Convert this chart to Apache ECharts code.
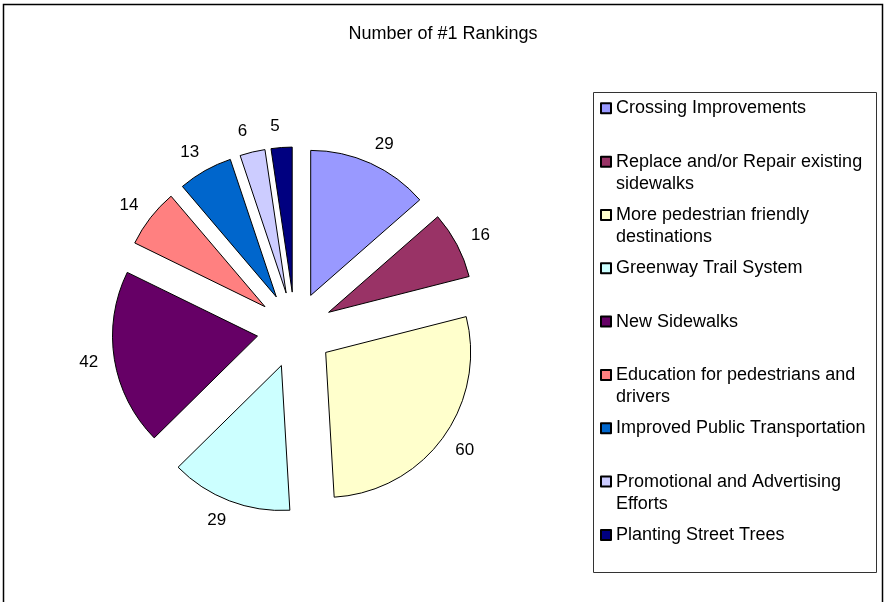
<!DOCTYPE html>
<html>
<head>
<meta charset="UTF-8">
<title>Number of #1 Rankings</title>
<style>
html, body { margin: 0; padding: 0; background: #fff; }
#chart { width: 886px; height: 602px; }
</style>
</head>
<body>
<div id="chart"></div>
<script src="https://cdn.jsdelivr.net/npm/echarts@6/dist/echarts.min.js"></script>
<script type="text/javascript">
// data
var categories = [
  'Crossing Improvements',
  'Replace and/or Repair existing sidewalks',
  'More pedestrian friendly destinations',
  'Greenway Trail System',
  'New Sidewalks',
  'Education for pedestrians and drivers',
  'Improved Public Transportation',
  'Promotional and Advertising Efforts',
  'Planting Street Trees'
];
var values = [29, 16, 60, 29, 42, 14, 13, 6, 5];
var colors = ['#9999FF', '#993366', '#FFFFCC', '#CCFFFF', '#660066', '#FF8080', '#0066CC', '#CCCCFF', '#000080'];
// legend text as wrapped in the picture
var legendLabels = [
  'Crossing Improvements',
  'Replace and/or Repair existing\nsidewalks',
  'More pedestrian friendly\ndestinations',
  'Greenway Trail System',
  'New Sidewalks',
  'Education for pedestrians and\ndrivers',
  'Improved Public Transportation',
  'Promotional and Advertising\nEfforts',
  'Planting Street Trees'
];

var FONT = '"Liberation Sans", Arial, sans-serif';

var pieData = [];
for (var i = 0; i < categories.length; i++) {
  pieData.push({
    name: categories[i],
    value: values[i],
    selected: true,
    itemStyle: { color: colors[i] }
  });
}

var myChart = echarts.init(document.getElementById('chart'));

var option = {
  backgroundColor: '#fff',
  animation: false,
  title: {
    text: 'Number of #1 Rankings',
    left: 'center',
    top: 20,
    textStyle: { fontFamily: FONT, fontSize: 18, fontWeight: 'normal', color: '#000' }
  },
  legend: {
    orient: 'vertical',
    left: 600,
    top: 75.3,
    padding: 0,
    itemWidth: 10,
    itemHeight: 10,
    itemGap: -12.67,
    itemTextGap: 6,
    icon: 'rect',
    selectedMode: false,
    data: categories,
    formatter: function (name) {
      // blank first line keeps the icon level with the first text line;
      // one-line entries get a blank third line so every entry is the same height
      var t = legendLabels[categories.indexOf(name)];
      if (t.indexOf('\n') < 0) t += '\n ';
      return ' \n' + t;
    },
    textStyle: {
      fontFamily: FONT,
      fontSize: 18,
      lineHeight: 22,
      color: '#000'
    }
  },
  graphic: [
    {
      // outer frame
      type: 'rect',
      shape: { x: 3.5, y: 4.5, width: 879, height: 700 },
      style: { fill: 'none', stroke: '#000', lineWidth: 1.5 },
      silent: true
    },
    {
      // legend frame
      type: 'rect',
      shape: { x: 593.5, y: 92.5, width: 283, height: 480 },
      style: { fill: 'none', stroke: '#333', lineWidth: 1 },
      silent: true,
      z: -1
    }
  ],
  series: [{
    type: 'pie',
    center: [295, 330],
    radius: 145,
    startAngle: 90,
    clockwise: true,
    selectedMode: 'multiple',
    selectedOffset: 38,
    avoidLabelOverlap: false,
    emphasis: { disabled: true },
    itemStyle: { borderColor: '#000', borderWidth: 1 },
    select: {
      itemStyle: { borderColor: '#000', borderWidth: 1 },
      label: { color: '#000' }
    },
    label: {
      show: true,
      position: 'outside',
      formatter: '{c}',
      fontFamily: FONT,
      fontSize: 17,
      color: '#000'
    },
    labelLine: { show: false, length: 21, length2: 0 },
    labelLayout: function () {
      return { align: 'center', verticalAlign: 'middle' };
    },
    data: pieData
  }]
};
myChart.setOption(option);
</script>
</body>
</html>
